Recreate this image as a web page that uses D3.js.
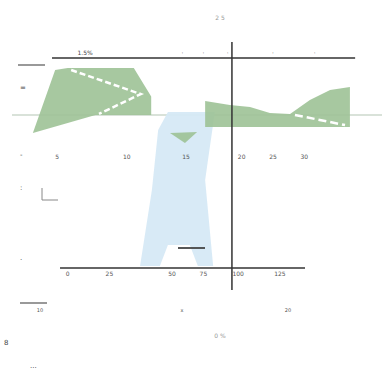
<!DOCTYPE html>
<html>
<head>
<meta charset="utf-8">
<script src="https://cdn.jsdelivr.net/npm/d3@7"></script>
<style>
  body { margin: 0; background: #fff; }
  text { font-family: "DejaVu Sans", sans-serif; }
</style>
</head>
<body>
<div id="container"></div>
<script>
// chart values (abstract units 0-100 on both axes)
var leftArea = [[12.4, 88.7], [16, 89.5], [35, 89.5], [40, 78], [40, 70.6], [24, 70.6], [6, 63.3]]
var leftDivide = [[17, 88.7], [37, 79], [25, 71]]
var rightArea = [[55.5, 76.2], [62.6, 74.6], [68.4, 73.8], [74.1, 71.4], [79.9, 71], [85.6, 76.6],
    [91.4, 80.6], [97.1, 81.9], [97.1, 65.7], [55.5, 65.7]]
var rightDivide = [[81.3, 70.6], [95.7, 66.5]]
var midArea = [[45.4, 63.3], [53.2, 63.7], [49.7, 59.3]]
var blueArea = [[44.8, 71.8], [58.3, 71.8], [55.5, 44.4], [57.8, 9.7], [53.4, 9.7], [51.1, 18.1],
    [44.8, 18.1], [42.5, 9.7], [36.8, 9.7], [40.2, 40.3], [42, 64.5]]
var baseline = 70.6
var topAxisY = 93.5
var bottomAxisY = 8.9
var crossX = 63.2
var topTicks = [21, 49, 55, 62, 75, 87]
var topTickLabels = ['1.5%', '', '', '', '', '']
var bottomTicks = [16, 28, 34, 46, 55, 65, 77]
var bottomTickLabels = ['0', '25', '', '50', '75', '100', '125']
var rowLabels = ['5', '10', '15', '20', '25', '30']
var rowX = [13, 33, 50, 66, 75, 84]

var width = 382, height = 383

var svg = d3.select('#container').append('svg')
    .attr('width', width).attr('height', height)

var x = d3.scaleLinear().domain([0, 100]).range([12, 360])
var y = d3.scaleLinear().domain([0, 100]).range([290, 42])

var line = d3.line().x(function(d) { return x(d[0]) }).y(function(d) { return y(d[1]) })

// baseline
svg.append('line')
    .attr('x1', x(0)).attr('x2', width)
    .attr('y1', y(baseline)).attr('y2', y(baseline))
    .style('stroke', '#ccd8cc').style('stroke-width', 1.5)

// blue funnel
svg.append('path').attr('d', line(blueArea) + 'Z')
    .style('fill', '#d6e9f5').style('opacity', 0.95)

// green areas
;[leftArea, rightArea, midArea].forEach(function(a) {
    svg.append('path').attr('d', line(a) + 'Z')
        .style('fill', '#9dc296').style('opacity', 0.9)
})

svg.append('path').attr('d', line(leftDivide))
    .style('fill', 'none').style('stroke', '#fff')
    .style('stroke-width', 2.5).style('stroke-dasharray', '6,3')
svg.append('path').attr('d', line(rightDivide))
    .style('fill', 'none').style('stroke', '#fff')
    .style('stroke-width', 2.5).style('stroke-dasharray', '8,4')

// axes lines
svg.append('line')
    .attr('x1', x(11.5)).attr('x2', x(98.6))
    .attr('y1', y(topAxisY)).attr('y2', y(topAxisY))
    .style('stroke', '#333').style('stroke-width', 1.5)
svg.append('line')
    .attr('x1', x(13.8)).attr('x2', x(84.2))
    .attr('y1', y(bottomAxisY)).attr('y2', y(bottomAxisY))
    .style('stroke', '#333').style('stroke-width', 1.5)
svg.append('line')
    .attr('x1', x(crossX)).attr('x2', x(crossX))
    .attr('y1', y(100)).attr('y2', y(0))
    .style('stroke', '#333').style('stroke-width', 1.5)

// short marks
svg.append('line').attr('x1', 18).attr('x2', 45).attr('y1', 65).attr('y2', 65)
    .style('stroke', '#555').style('stroke-width', 1.2)
svg.append('line').attr('x1', 20).attr('x2', 47).attr('y1', 303).attr('y2', 303)
    .style('stroke', '#555').style('stroke-width', 1.2)
svg.append('line').attr('x1', 178).attr('x2', 205).attr('y1', 248).attr('y2', 248)
    .style('stroke', '#444').style('stroke-width', 1.8)
svg.append('path').attr('d', 'M42,188V200H58')
    .style('fill', 'none').style('stroke', '#888').style('stroke-width', 1)

// tick labels
svg.append('g').selectAll('text').data(topTicks).enter().append('text')
    .attr('x', function(d) { return x(d) })
    .attr('y', y(topAxisY) - 3)
    .attr('text-anchor', 'middle')
    .style('font-size', '6px').style('fill', '#444')
    .text(function(d, i) { return topTickLabels[i] || '·' })

svg.append('g').selectAll('text').data(bottomTicks).enter().append('text')
    .attr('x', function(d) { return x(d) })
    .attr('y', y(bottomAxisY) + 8)
    .attr('text-anchor', 'middle')
    .style('font-size', '6px').style('fill', '#555')
    .text(function(d, i) { return bottomTickLabels[i] })

svg.append('g').selectAll('text').data(rowX).enter().append('text')
    .attr('x', function(d) { return x(d) })
    .attr('y', 159)
    .attr('text-anchor', 'middle')
    .style('font-size', '6px').style('fill', '#555')
    .text(function(d, i) { return rowLabels[i] })

// side labels
var side = [[20, 90, '='], [20, 157, '-'], [20, 190, ':'], [20, 262, '·'], [4, 345, '8'], [30, 368, '...']]
svg.append('g').selectAll('text').data(side).enter().append('text')
    .attr('x', function(d) { return d[0] }).attr('y', function(d) { return d[1] })
    .style('font-size', '7px').style('fill', '#444')
    .text(function(d) { return d[2] })

// title-like labels
svg.append('text').attr('x', 220).attr('y', 20).attr('text-anchor', 'middle')
    .style('font-size', '6px').style('fill', '#999').text('2 5')
svg.append('text').attr('x', 220).attr('y', 338).attr('text-anchor', 'middle')
    .style('font-size', '6px').style('fill', '#999').text('0 %')
svg.append('text').attr('x', 40).attr('y', 312).attr('text-anchor', 'middle')
    .style('font-size', '5px').style('fill', '#555').text('10')
svg.append('text').attr('x', 182).attr('y', 312).attr('text-anchor', 'middle')
    .style('font-size', '5px').style('fill', '#555').text('x')
svg.append('text').attr('x', 288).attr('y', 312).attr('text-anchor', 'middle')
    .style('font-size', '5px').style('fill', '#555').text('20')
</script>
</body>
</html>
